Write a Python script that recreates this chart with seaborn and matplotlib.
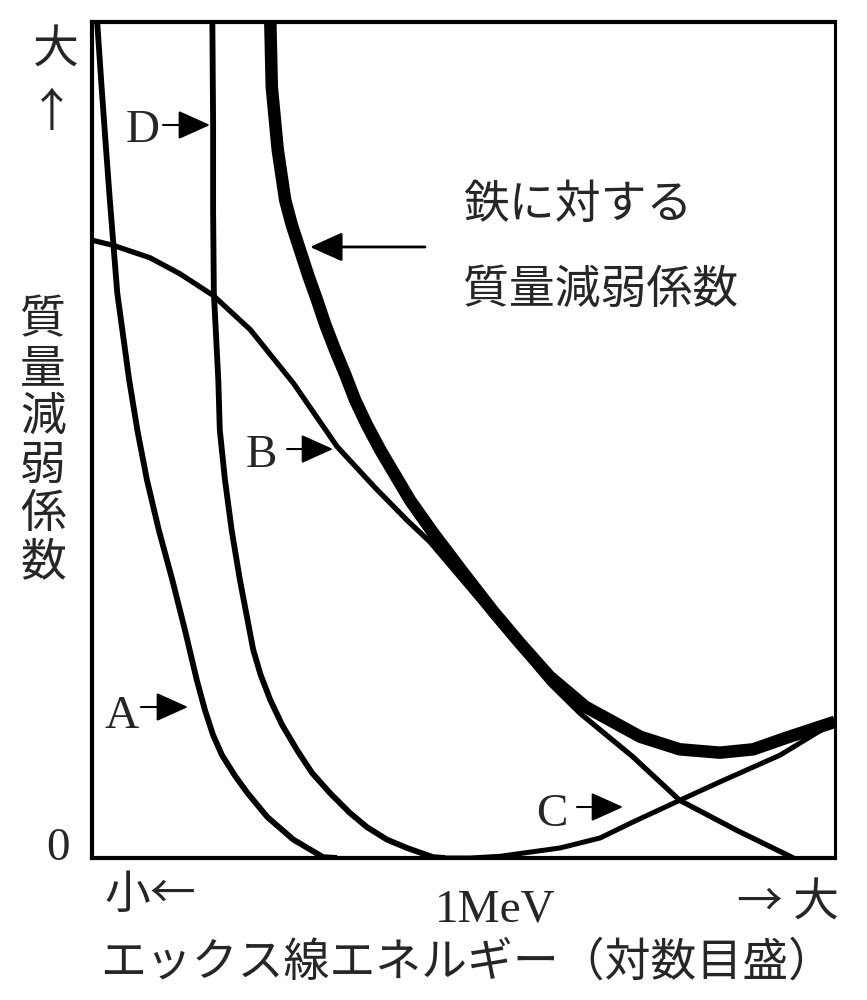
import matplotlib
matplotlib.use("Agg")
import matplotlib.pyplot as plt
import seaborn as sns

# ── Data: curves (arbitrary units, 0-100) ────────────────────────────────────
# x: log X-ray energy, y: mass attenuation coefficient
a_x = [0.7, 1.3, 1.9, 2.4, 3.4, 5.0, 6.1, 7.4, 9.0, 10.8, 12.5, 14.1, 15.2,
       16.3, 17.5, 19.2, 20.9, 23.6, 27.1, 31.1, 33.0]
a_y = [100, 92.1, 84.7, 78.7, 67.6, 57.2, 51.2, 45.2, 39.2, 33.3, 27.3, 21.3,
       17.7, 14.7, 12.3, 9.9, 7.8, 4.9, 2.2, 0.1, 0]

d_x = [16.2, 16.3, 16.3, 16.4, 17.0, 17.2, 17.9, 18.8, 19.9, 21.7, 22.7, 24.0,
       25.6, 27.6, 29.6, 32.0, 34.7, 37.0, 39.7, 42.4, 45.9, 47.5]
d_y = [100, 87.7, 77.5, 67.6, 57.2, 51.2, 45.2, 39.2, 33.3, 24.9, 21.9, 18.9,
       15.9, 12.9, 10.2, 7.8, 5.4, 3.7, 2.2, 1.2, 0.1, 0]

b_x = [0, 2.8, 7.8, 11.8, 16.3, 21.3, 27.1, 33.0, 38.1, 42.4, 45.5,
       54.0, 61.6, 65.7, 72.8, 79.1, 86.8, 94.4]
b_y = [73.9, 73.3, 71.8, 69.9, 67.3, 63.2, 56.8, 49.2, 44.3, 40.4, 37.8,
       28.9, 20.9, 17.3, 12.1, 6.9, 3.3, 0]

c_x = [45.5, 50.9, 54.9, 63.0, 68.4, 72.8, 79.1, 84.5, 92.6, 100]
c_y = [0, 0, 0.2, 1.2, 2.4, 4.3, 6.9, 9.1, 12.3, 16.3]

fe_x = [24.0, 24.2, 25.0, 26.0, 26.9, 28.0, 29.1, 30.3, 31.4, 32.7, 34.1,
        35.4, 37.0, 38.8, 40.8, 42.8, 45.9, 49.9, 54.0, 57.6, 61.6, 66.4,
        73.8, 79.1, 84.5, 89.0, 93.5, 100]
fe_y = [100, 92.2, 84.7, 78.7, 75.7, 72.7, 69.7, 66.7, 63.8, 60.8, 57.8,
        54.8, 51.8, 48.8, 45.8, 42.8, 38.9, 34.2, 29.5, 25.7, 21.7, 18.1,
        14.5, 13.0, 12.6, 13.0, 14.4, 16.3]

ylabel_chars = list("質量減弱係数")
fe_label = ["鉄に対する", "質量減弱係数"]
xlabel = "エックス線エネルギー（対数目盛）"

# ── Style ────────────────────────────────────────────────────────────────────
sns.set_style("white")
plt.rcParams["font.family"] = ["Noto Sans CJK JP", "DejaVu Sans"]
CJK = ["Noto Sans CJK JP", "DejaVu Sans"]
SERIF = ["Liberation Serif", "DejaVu Serif"]
FS = 33

fig = plt.figure(figsize=(8.67, 10), dpi=100)
ax = fig.add_axes([92 / 867, 142 / 1000, 743 / 867, 836 / 1000])

# ── Curves ───────────────────────────────────────────────────────────────────
thin = dict(color="black", sort=False, estimator=None, legend=False,
            solid_joinstyle="round", solid_capstyle="butt")
sns.lineplot(x=a_x, y=a_y, ax=ax, linewidth=4.2, **thin)
sns.lineplot(x=d_x, y=d_y, ax=ax, linewidth=4.2, **thin)
sns.lineplot(x=b_x, y=b_y, ax=ax, linewidth=3.8, **thin)
sns.lineplot(x=c_x, y=c_y, ax=ax, linewidth=3.6, **thin)
sns.lineplot(x=fe_x, y=fe_y, ax=ax, linewidth=9, **thin)

ax.set_xlim(0, 100)
ax.set_ylim(0, 100)
ax.set_xticks([])
ax.set_yticks([])
ax.set_xlabel("")
ax.set_ylabel("")
for side in ["left", "top", "bottom"]:
    ax.spines[side].set_linewidth(3)
ax.spines["right"].set_linewidth(2.2)
for sp in ax.spines.values():
    sp.set_color("black")
    sp.set_visible(True)


def arrow(x0, x1, y, lw=1.5, scale=20):
    ax.annotate("", xy=(x1, y), xytext=(x0, y), xycoords="axes fraction",
                arrowprops=dict(arrowstyle="-|>,head_length=1.0,head_width=0.45",
                                color="black", lw=lw, mutation_scale=scale,
                                shrinkA=0, shrinkB=0))


def txt(x, y, s, family, ha="center", size=FS):
    ax.text(x, y, s, transform=ax.transAxes, ha=ha, va="center",
            fontsize=size, family=family, clip_on=False)


# curve labels
txt(0.0686, 0.8696, "D", SERIF, size=34)
arrow(0.0956, 0.1588, 0.8768)
txt(0.2275, 0.4809, "B", SERIF, size=34)
arrow(0.2624, 0.3244, 0.4892)
txt(0.0404, 0.1687, "A", SERIF, size=34)
arrow(0.0659, 0.1292, 0.1806)
txt(0.6191, 0.0514, "C", SERIF, size=34)
arrow(0.6528, 0.7147, 0.0610)

# iron label with long arrow
txt(0.4993, 0.7811, fe_label[0], CJK, ha="left")
txt(0.4993, 0.6794, fe_label[1], CJK, ha="left")
arrow(0.4482, 0.2934, 0.7309, lw=2.0, scale=20)

# y axis annotations
txt(-0.0485, 0.9665, "大", CJK)
txt(-0.054, 0.892, "↑", CJK)
for i, ch in enumerate(ylabel_chars):
    txt(-0.0659, 0.6435 - i * 0.0579, ch, CJK)
txt(-0.0458, 0.0108, "0", SERIF, size=34)

# x axis annotations
txt(0.0175, -0.0443, "小←", CJK, ha="left")
txt(0.5424, -0.0622, "1MeV", SERIF, size=34)
txt(0.868, -0.0538, "→ 大", CJK, ha="left")
txt(0.0108, -0.1244, xlabel, CJK, ha="left")

fig.savefig("out.png", dpi=100)
